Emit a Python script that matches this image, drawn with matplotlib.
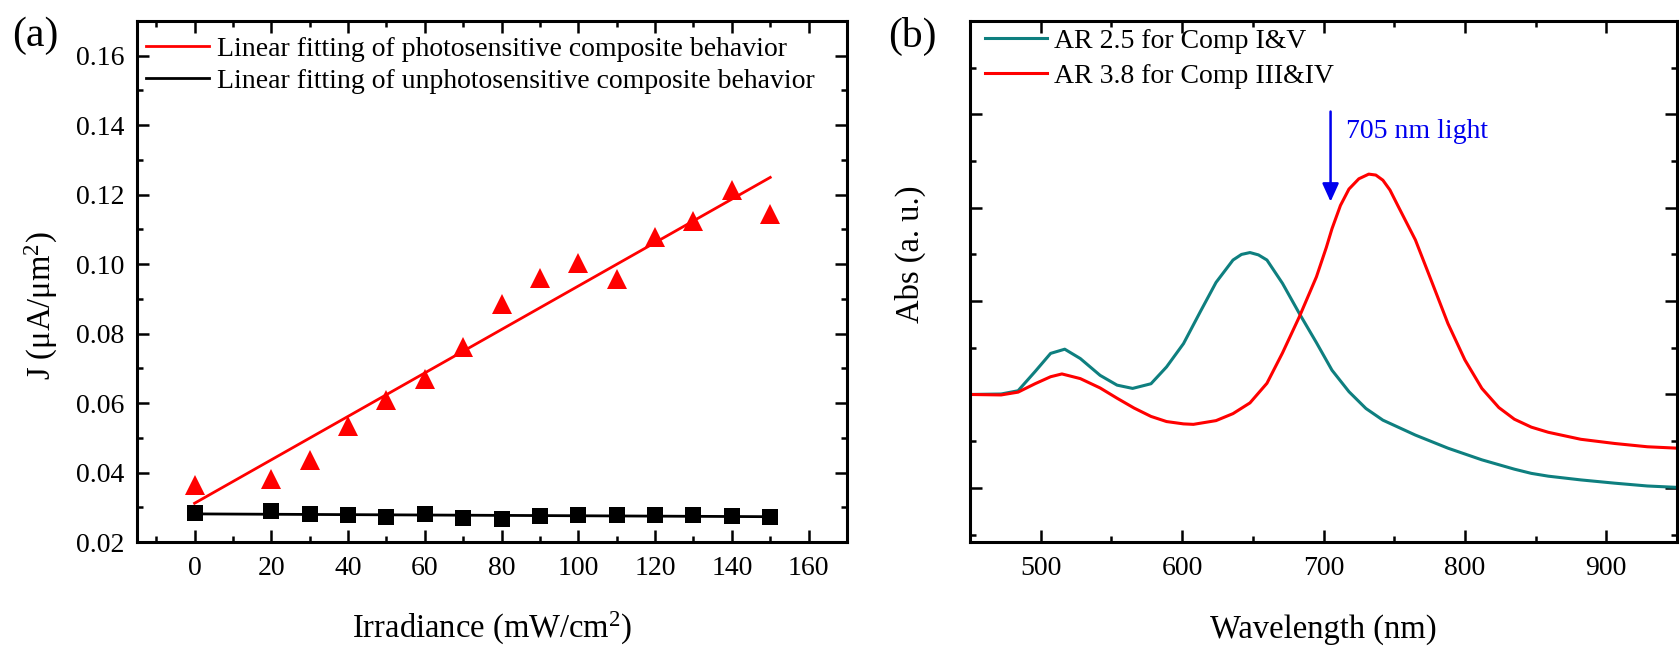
import numpy as np
import matplotlib
matplotlib.use("Agg")
import matplotlib.pyplot as plt
from matplotlib.ticker import MultipleLocator, FormatStrFormatter

plt.rcParams["font.family"] = ["Liberation Serif", "DejaVu Serif"]
plt.rcParams["mathtext.fontset"] = "custom"
plt.rcParams["mathtext.rm"] = "Liberation Serif"
plt.rcParams["mathtext.it"] = "Liberation Serif:italic"
plt.rcParams["mathtext.bf"] = "Liberation Serif:bold"

# ---- Panel (a): current density vs irradiance ----
irradiance = [0, 20, 30, 40, 50, 60, 70, 80, 90, 100, 110, 120, 130, 140, 150]
j_photo = [0.0363, 0.0380, 0.0435, 0.0533, 0.0610, 0.0670, 0.0760, 0.0885,
           0.0960, 0.1003, 0.0957, 0.1078, 0.1125, 0.1214, 0.1143]
j_unphoto = [0.0283, 0.0288, 0.0281, 0.0277, 0.0273, 0.0280, 0.0270, 0.0265,
             0.0276, 0.0277, 0.0277, 0.0278, 0.0277, 0.0275, 0.0273]

# ---- Panel (b): absorbance spectra ----
wl_ar25 = [450, 472, 484, 496, 507, 517, 528, 542, 554, 565, 578, 589, 601,
           613, 624, 636, 642, 648, 654, 660, 671, 683, 695, 706, 718, 730,
           742, 765, 788, 812, 835, 847, 859, 882, 906, 929, 950]
abs_ar25 = [0.400, 0.401, 0.408, 0.449, 0.488, 0.497, 0.477, 0.441, 0.420,
            0.413, 0.423, 0.459, 0.509, 0.578, 0.640, 0.688, 0.700, 0.704,
            0.699, 0.688, 0.638, 0.573, 0.511, 0.452, 0.406, 0.370, 0.345,
            0.313, 0.285, 0.260, 0.240, 0.231, 0.225, 0.217, 0.210, 0.204,
            0.201]

wl_ar38 = [450, 472, 484, 496, 507, 515, 528, 542, 554, 566, 578, 589, 601,
           608, 624, 636, 648, 660, 671, 683, 695, 702, 706, 712, 718, 725,
           732, 737, 742, 747, 753, 765, 777, 788, 800, 812, 824, 835, 847,
           859, 882, 906, 929, 950]
abs_ar38 = [0.400, 0.399, 0.405, 0.423, 0.438, 0.444, 0.434, 0.414, 0.392,
            0.371, 0.353, 0.342, 0.337, 0.336, 0.344, 0.359, 0.382, 0.424,
            0.489, 0.567, 0.652, 0.715, 0.755, 0.805, 0.840, 0.862, 0.872,
            0.870, 0.859, 0.838, 0.802, 0.731, 0.638, 0.552, 0.474, 0.413,
            0.372, 0.347, 0.330, 0.319, 0.304, 0.295, 0.288, 0.285]

light_wl = 705
legend_a = ["Linear fitting of photosensitive composite behavior",
            "Linear fitting of unphotosensitive composite behavior"]
legend_b = ["AR 2.5 for Comp I&V", "AR 3.8 for Comp III&IV"]

RED = "#ff0000"
TEAL = "#0e7f7f"
BLUE = "#0000ee"

TICK_FS = 20
LABEL_FS = 23.5
LEGEND_FS = 20

fig = plt.figure(figsize=(16.79, 6.47), dpi=100)
W, H = 1679, 647


def px_axes(left, top, right, bottom):
    return fig.add_axes([left / W, 1 - bottom / H, (right - left) / W,
                         (bottom - top) / H])


def style_axes(ax):
    for s in ax.spines.values():
        s.set_linewidth(2.2)
    ax.tick_params(which="both", direction="in", top=True, right=True,
                   width=1.8, labelsize=TICK_FS)
    ax.tick_params(axis="x", pad=10)
    ax.tick_params(axis="y", pad=9)
    ax.tick_params(which="major", length=8.5)
    ax.tick_params(which="minor", length=4.5)


ax1 = px_axes(137, 21, 847, 542)
ax2 = px_axes(970, 21, 1677, 542)

# Panel (a)
x = np.array(irradiance, dtype=float)
p_fit = np.polyfit(x, j_photo, 1)
u_fit = np.polyfit(x, j_unphoto, 1)
xf = np.array([x.min(), x.max()])
ax1.plot(xf, np.polyval(p_fit, xf), color=RED, lw=2.0, label=legend_a[0])
ax1.plot(xf, np.polyval(u_fit, xf), color="black", lw=2.0, label=legend_a[1])
ax1.plot(x, j_photo, linestyle="none", marker="^", ms=14, color=RED,
         markeredgewidth=0)
ax1.plot(x, j_unphoto, linestyle="none", marker="s", ms=11, color="black",
         markeredgewidth=0)
ax1.set_xlim(-15, 170)
ax1.set_ylim(0.02, 0.17)
ax1.xaxis.set_major_locator(MultipleLocator(20))
ax1.xaxis.set_minor_locator(MultipleLocator(10))
ax1.yaxis.set_major_locator(MultipleLocator(0.02))
ax1.yaxis.set_minor_locator(MultipleLocator(0.01))
ax1.yaxis.set_major_formatter(FormatStrFormatter("%.2f"))
style_axes(ax1)
ax1.set_xlabel(r"Irradiance (mW/cm$^{2}$)", fontsize=LABEL_FS)
ax1.xaxis.set_label_coords(0.5, -0.183)
ax1.xaxis.label.set_va("baseline")
ax1.set_ylabel(r"J ($\mathrm{\mu}$A/$\mathrm{\mu}$m$^{2}$)", fontsize=LABEL_FS)
ax1.yaxis.set_label_coords(-0.134, 0.453)
ax1.yaxis.label.set_va("center")
ax1.legend(loc="upper left", bbox_to_anchor=(0.013, 0.971), frameon=False,
           fontsize=LEGEND_FS, handlelength=2.25, handletextpad=0.3,
           labelspacing=0.25, borderaxespad=0, borderpad=0)
fig.text(12 / W, 1 - 36 / H, "(a)", fontsize=30, va="center", ha="left")

# Panel (b)
ax2.plot(wl_ar25, abs_ar25, color=TEAL, lw=2.2, label=legend_b[0])
ax2.plot(wl_ar38, abs_ar38, color=RED, lw=2.2, label=legend_b[1])
ax2.set_xlim(450, 950)
ax2.set_ylim(0.084, 1.2)
ax2.xaxis.set_major_locator(MultipleLocator(100))
ax2.xaxis.set_minor_locator(MultipleLocator(50))
ax2.yaxis.set_major_locator(MultipleLocator(0.2))
ax2.yaxis.set_minor_locator(MultipleLocator(0.1))
style_axes(ax2)
ax2.tick_params(labelleft=False)
ax2.set_xlabel("Wavelength (nm)", fontsize=LABEL_FS)
ax2.xaxis.set_label_coords(0.5, -0.183)
ax2.xaxis.label.set_va("baseline")
ax2.set_ylabel("Abs (a. u.)", fontsize=LABEL_FS)
ax2.yaxis.set_label_coords(-0.085, 0.5525)
ax2.yaxis.label.set_va("center")
ax2.legend(loc="upper left", bbox_to_anchor=(0.021, 0.986), frameon=False,
           fontsize=LEGEND_FS, handlelength=2.25, handletextpad=0.25,
           labelspacing=0.35, borderaxespad=0, borderpad=0)
ax2.annotate("", xy=(light_wl, 0.813), xytext=(light_wl, 1.006),
             arrowprops=dict(arrowstyle="-|>,head_width=0.25,head_length=0.55",
                             mutation_scale=20, color=BLUE, lw=1.8,
                             shrinkA=0, shrinkB=0))
ax2.text(light_wl + 11, 0.963, f"{light_wl} nm light", color=BLUE,
         fontsize=20, va="center", ha="left")
fig.text(888 / W, 1 - 36 / H, "(b)", fontsize=30, va="center", ha="left")

fig.savefig("out.png", dpi=100)
